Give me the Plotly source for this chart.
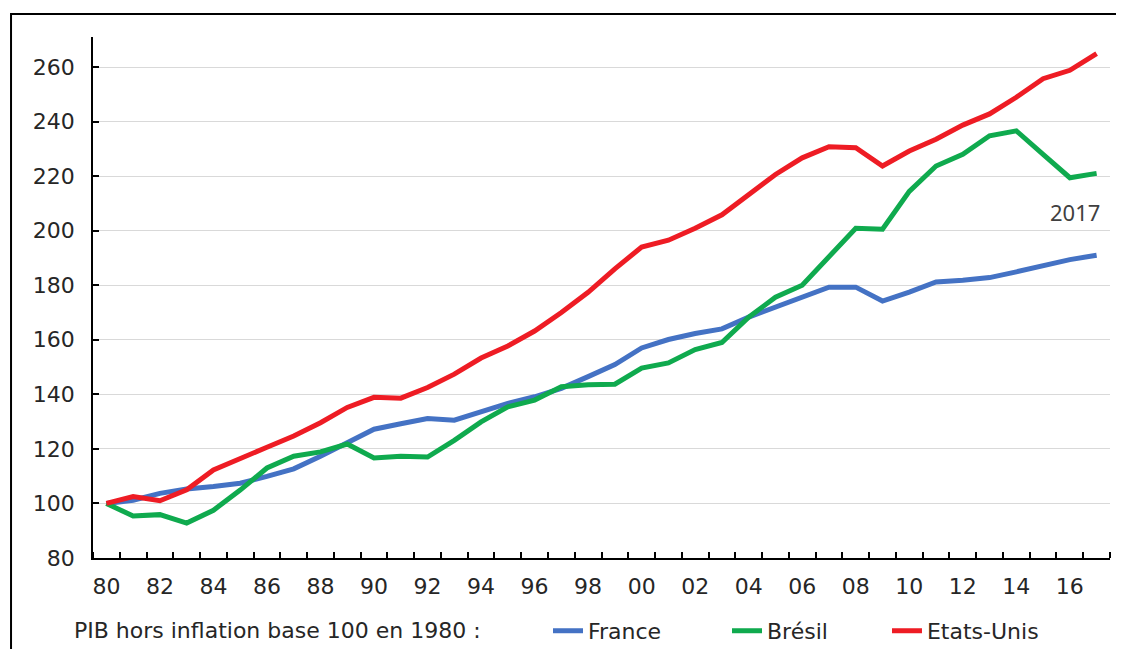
import plotly.graph_objects as go

years = list(range(1980, 2018))

france = [100.0, 101.2, 103.7, 105.3, 106.2, 107.4, 109.9, 112.7, 117.3, 122.2,
          127.2, 129.2, 131.1, 130.5, 133.6, 136.7, 139.1, 142.2, 146.5, 150.9,
          157.0, 160.1, 162.3, 164.0, 168.3, 172.0, 175.6, 179.3, 179.3, 174.2,
          177.5, 181.2, 181.8, 182.8, 184.9, 187.3, 189.4, 191.0]

bresil = [100.0, 95.4, 95.9, 92.8, 97.5, 104.9, 113.0, 117.3, 118.9, 121.8,
          116.7, 117.3, 117.0, 123.1, 129.9, 135.4, 137.9, 142.8, 143.5, 143.7,
          149.6, 151.5, 156.4, 159.0, 168.3, 175.6, 180.0, 190.4, 200.9, 200.5,
          214.4, 223.7, 228.0, 234.8, 236.6, 228.0, 219.4, 221.0]

etats_unis = [100.0, 102.5, 101.0, 105.0, 112.3, 116.7, 120.6, 124.7, 129.6, 135.2,
              138.9, 138.6, 142.5, 147.4, 153.3, 157.7, 163.2, 170.0, 177.4, 186.0,
              194.0, 196.5, 200.9, 205.8, 213.2, 220.6, 226.7, 230.8, 230.4, 223.7,
              229.2, 233.5, 238.7, 242.8, 248.9, 255.7, 258.8, 264.9]

x_tick_years = list(range(1980, 2017, 2))
x_tick_text = ["80", "82", "84", "86", "88", "90", "92", "94", "96", "98",
               "00", "02", "04", "06", "08", "10", "12", "14", "16"]
y_ticks = [80, 100, 120, 140, 160, 180, 200, 220, 240, 260]

series_names = ["France", "Brésil", "Etats-Unis"]
colors = ["#4472C4", "#0FAA4E", "#EE1C24"]
legend_title = "PIB hors inflation base 100 en 1980 :"
end_label = "2017"

FONT = "DejaVu Sans"
TXT = "#262626"

fig = go.Figure()
for name, vals, col, leg in zip(series_names, [france, bresil, etats_unis], colors,
                                ["legend", "legend2", "legend3"]):
    fig.add_trace(go.Scatter(x=years, y=vals, mode="lines", name=name,
                             line=dict(color=col, width=5), legend=leg))

LEG_Y = -0.140
leg_common = dict(orientation="h", y=LEG_Y, yanchor="middle", xanchor="left",
                  font=dict(family=FONT, size=22, color=TXT),
                  bgcolor="rgba(0,0,0,0)", borderwidth=0)

# outer frame (top and left edges only), paper coordinates
FL, FR, FT, FB = -0.0806, 1.0059, 1.0441, -0.19
frame_path = f"M{FL},{FB} L{FL},{FT} L{FR},{FT}"

fig.update_layout(
    width=1108, height=641,
    margin=dict(l=85, r=6, t=29, b=91, autoexpand=False),
    paper_bgcolor="white", plot_bgcolor="white",
    showlegend=True,
    legend=dict(x=0.4474, **leg_common),
    legend2=dict(x=0.6234, **leg_common),
    legend3=dict(x=0.7807, **leg_common),
    xaxis=dict(
        range=[1979.5, 2017.5],
        tickmode="array", tickvals=x_tick_years, ticktext=x_tick_text,
        ticks="", showline=True, linecolor="black", linewidth=1.5,
        showgrid=False, zeroline=False,
        tickfont=dict(family=FONT, size=22, color=TXT),
        ticklabelstandoff=8,
        minor=dict(tickvals=[y - 0.5 for y in years] + [2017.5], ticks="inside",
                   ticklen=6, tickwidth=1.5, tickcolor="black", showgrid=False),
    ),
    yaxis=dict(
        range=[80, 271],
        tickmode="array", tickvals=y_ticks,
        ticks="inside", ticklen=6, tickwidth=1.5, tickcolor="black",
        showline=True, linecolor="black", linewidth=1.5,
        showgrid=True, gridcolor="#D9D9D9", gridwidth=1.3, zeroline=False,
        tickfont=dict(family=FONT, size=22, color=TXT),
        ticklabelstandoff=12,
    ),
    annotations=[
        dict(text=legend_title, xref="paper", yref="paper", x=-0.0206, y=LEG_Y,
             xanchor="left", yanchor="middle", showarrow=False,
             font=dict(family=FONT, size=22, color=TXT)),
        dict(text=end_label, xref="x", yref="y", x=2017.2, y=207,
             xanchor="right", yanchor="middle", showarrow=False,
             font=dict(family="Noto Sans", size=22, color="#404040")),
    ],
    shapes=[
        dict(type="path", xref="paper", yref="paper", path=frame_path,
             fillcolor="rgba(0,0,0,0)", line=dict(color="black", width=2)),
    ],
)

fig.write_html("out.html")
